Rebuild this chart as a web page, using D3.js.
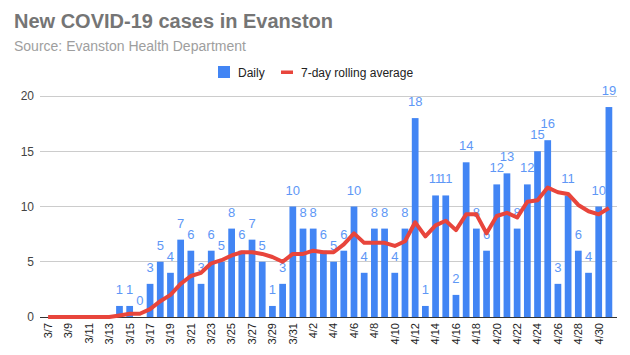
<!DOCTYPE html>
<html><head><meta charset="utf-8">
<script src="https://cdn.jsdelivr.net/npm/d3@7"></script>
<style>body{margin:0;background:#fff}svg{display:block;font-family:Arial,"Liberation Sans",sans-serif}</style>
</head><body><svg id="c" width="630" height="355"></svg>
<script>
const dates = ["3/7","3/8","3/9","3/10","3/11","3/12","3/13","3/14","3/15","3/16","3/17","3/18","3/19","3/20","3/21","3/22","3/23","3/24","3/25","3/26","3/27","3/28","3/29","3/30","3/31","4/1","4/2","4/3","4/4","4/5","4/6","4/7","4/8","4/9","4/10","4/11","4/12","4/13","4/14","4/15","4/16","4/17","4/18","4/19","4/20","4/21","4/22","4/23","4/24","4/25","4/26","4/27","4/28","4/29","4/30","5/1"];
const daily = [null,null,null,null,null,null,null,1,1,0,3,5,4,7,6,3,6,5,8,6,7,5,1,3,10,8,8,6,5,6,10,4,8,8,4,8,18,1,11,11,2,14,8,6,12,13,8,12,15,16,3,11,6,4,10,19];
const rolling = [0,0,0,0,0,0,0,0.14,0.29,0.29,0.71,1.43,2.0,3.0,3.71,4.0,4.86,5.14,5.57,5.86,5.86,5.71,5.43,5.0,5.71,5.71,6.0,5.86,5.86,6.57,7.57,6.71,6.71,6.71,6.43,6.86,8.57,7.29,8.29,8.71,7.86,9.29,9.29,7.57,9.14,9.43,9.0,10.43,10.57,11.71,11.29,11.14,10.14,9.57,9.29,9.86];
const yTicks = [0,5,10,15,20];
const title = "New COVID-19 cases in Evanston";
const subtitle = "Source: Evanston Health Department";

const svg = d3.select("#c");
const L = 43, R = 614, T = 96, B = 317;
const x = d3.scaleBand().domain(dates).range([L, R]).paddingInner(0.34).paddingOuter(0.17);
const y = d3.scaleLinear().domain([0, 20]).range([B, T]);

svg.append("text").attr("x", 14).attr("y", 28).attr("fill", "#757575")
  .attr("font-size", 20).attr("font-weight", "bold").text(title);
svg.append("text").attr("x", 14).attr("y", 51).attr("fill", "#9e9e9e")
  .attr("font-size", 14).text(subtitle);

// legend
const lg = svg.append("g");
lg.append("rect").attr("x", 218).attr("y", 66).attr("width", 12).attr("height", 12).attr("fill", "#4285f4");
lg.append("text").attr("x", 238).attr("y", 76.5).attr("font-size", 12).attr("fill", "#222").text("Daily");
lg.append("rect").attr("x", 281).attr("y", 70.5).attr("width", 12).attr("height", 3.5).attr("fill", "#e8453c");
lg.append("text").attr("x", 301).attr("y", 76.5).attr("font-size", 12).attr("fill", "#222").text("7-day rolling average");

// grid
svg.append("g").selectAll("line").data(yTicks.filter(d => d > 0)).join("line")
  .attr("x1", 40).attr("x2", 617).attr("y1", d => y(d)).attr("y2", d => y(d))
  .attr("stroke", "#cccccc").attr("stroke-width", 1).attr("shape-rendering", "crispEdges");

const yAxis = d3.axisLeft(y).tickValues(yTicks).tickSize(0).tickPadding(0);
const ya = svg.append("g").attr("transform", "translate(34,0)").call(yAxis);
ya.select(".domain").remove();
ya.selectAll("text").attr("font-size", 12).attr("fill", "#444").attr("font-family", "Arial,'Liberation Sans',sans-serif");

// bars
const bw = x.bandwidth();
svg.append("g").selectAll("rect").data(dates.map((d, i) => ({d, v: daily[i]})).filter(o => o.v != null && o.v > 0)).join("rect")
  .attr("x", o => x(o.d)).attr("width", bw)
  .attr("y", o => y(o.v)).attr("height", o => y(0) - y(o.v))
  .attr("fill", "#4285f4");

// labels
svg.append("g").selectAll("text").data(dates.map((d, i) => ({d, v: daily[i]})).filter(o => o.v != null)).join("text")
  .attr("x", o => x(o.d) + bw / 2).attr("y", o => y(o.v) - 12)
  .attr("text-anchor", "middle").attr("font-size", 13).attr("fill", "#5e97f6")
  .text(o => o.v);

// baseline
svg.append("line").attr("x1", 40).attr("x2", 617).attr("y1", B + 0.5).attr("y2", B + 0.5)
  .attr("stroke", "#333").attr("stroke-width", 1);

// line
const line = d3.line().x((v, i) => x(dates[i]) + bw / 2).y(v => y(v));
svg.append("path").datum(rolling).attr("d", line).attr("fill", "none")
  .attr("stroke", "#e8453c").attr("stroke-width", 4).attr("stroke-linejoin", "round");

// x axis labels
const xa = d3.axisBottom(x).tickValues(dates.filter((d, i) => i % 2 === 0)).tickSize(0).tickPadding(0);
const xg = svg.append("g").attr("transform", `translate(0,${B})`).call(xa);
xg.select(".domain").remove();
xg.selectAll("text").attr("font-size", 11).attr("fill", "#222")
  .attr("font-family", "Arial,'Liberation Sans',sans-serif")
  .attr("transform", "rotate(-90)").attr("text-anchor", "end")
  .attr("x", -6).attr("y", 0).attr("dy", "0.35em");
</script></body></html>
